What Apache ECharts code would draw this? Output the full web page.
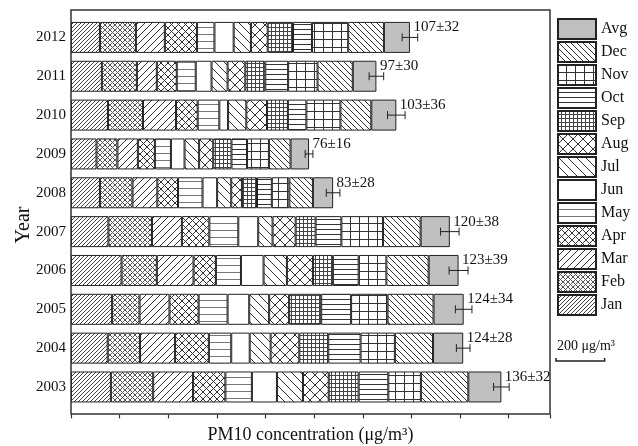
<!DOCTYPE html>
<html>
<head>
<meta charset="utf-8">
<script src="https://cdn.jsdelivr.net/npm/echarts@6/dist/echarts.min.js"></script>
<style>
  html, body { margin: 0; padding: 0; background: #fff; }
  #chart { width: 638px; height: 446px; }
</style>
</head>
<body>
<div id="chart"></div>
<script>
// Monthly mean PM10 (µg/m3) per year, stacked, followed by the annual mean ± SD.
const years = ['2003', '2004', '2005', '2006', '2007', '2008', '2009', '2010', '2011', '2012'];
const monthNames = ['Jan', 'Feb', 'Mar', 'Apr', 'May', 'Jun', 'Jul', 'Aug', 'Sep', 'Oct', 'Nov', 'Dec'];

const jan = [164, 151, 169, 208, 154, 119, 105, 152, 127, 119];
const feb = [174, 133, 113, 145, 179, 134, 86, 144, 144, 148];
const mar = [164, 144, 123, 151, 123, 102, 84, 136, 82, 119];
const apr = [133, 139, 120, 92, 113, 85, 70, 89, 82, 132];
const may = [109, 92, 119, 103, 119, 101, 66, 89, 78, 72];
const jun = [103, 76, 89, 93, 82, 60, 56, 36, 65, 79];
const jul = [107, 86, 82, 96, 59, 58, 60, 75, 66, 71];
const aug = [106, 118, 82, 107, 95, 44, 58, 85, 73, 69];
const sep = [123, 119, 132, 82, 82, 62, 75, 86, 82, 104];
const oct = [122, 133, 123, 106, 106, 61, 64, 76, 94, 78];
const nov = [134, 141, 150, 114, 171, 72, 90, 140, 121, 149];
const dec = [195, 157, 189, 174, 155, 97, 89, 127, 145, 147];
const annualMean = [136, 124, 124, 123, 120, 83, 76, 103, 97, 107];
const annualSd = [32, 28, 34, 39, 38, 28, 16, 36, 30, 32];

const monthValues = [jan, feb, mar, apr, may, jun, jul, aug, sep, oct, nov, dec];

const FONT = "'Liberation Serif', 'Times New Roman', serif";
const INK = '#222';

// ---- hatch fills drawn on small tiles ----
function tile(w, h, color, draw) {
  const c = document.createElement('canvas');
  c.width = w; c.height = h;
  const ctx = c.getContext('2d');
  ctx.fillStyle = '#fff';
  ctx.fillRect(0, 0, w, h);
  ctx.strokeStyle = color;
  ctx.lineWidth = 1;
  draw(ctx, w, h);
  return { image: c, repeat: 'repeat' };
}
function seg(ctx, x1, y1, x2, y2) {
  ctx.beginPath(); ctx.moveTo(x1, y1); ctx.lineTo(x2, y2); ctx.stroke();
}
function slash(ctx, s) {            // "/"
  seg(ctx, -1, s + 1, s + 1, -1);
  seg(ctx, -1, 1, 1, -1);
  seg(ctx, s - 1, s + 1, s + 1, s - 1);
}
function backslash(ctx, s) {        // "\"
  seg(ctx, -1, -1, s + 1, s + 1);
  seg(ctx, -1, s - 1, 1, s + 1);
  seg(ctx, s - 1, -1, s + 1, 1);
}
function hLine(ctx, w, h) { seg(ctx, 0, h - 0.5, w, h - 0.5); }
function vLine(ctx, w, h) { seg(ctx, w - 0.5, 0, w - 0.5, h); }

const fills = {
  Jan: tile(4, 4, '#444', (c, w) => slash(c, w)),
  Feb: tile(5, 5, '#555', (c, w) => { slash(c, w); backslash(c, w); }),
  Mar: tile(7, 7, '#333', (c, w) => slash(c, w)),
  Apr: tile(7, 7, '#333', (c, w) => { slash(c, w); backslash(c, w); }),
  May: tile(7, 7, '#777', (c, w, h) => hLine(c, w, h)),
  Jun: '#ffffff',
  Jul: tile(9, 9, '#333', (c, w) => backslash(c, w)),
  Aug: tile(10, 10, '#333', (c, w) => { slash(c, w); backslash(c, w); }),
  Sep: tile(4, 4, '#444', (c, w, h) => { hLine(c, w, h); vLine(c, w, h); }),
  Oct: tile(5, 5, '#333', (c, w, h) => hLine(c, w, h)),
  Nov: tile(9, 8, '#333', (c, w, h) => { hLine(c, w, h); vLine(c, w, h); }),
  Dec: tile(6, 6, '#333', (c, w) => backslash(c, w)),
  Avg: '#c0c0c0'
};

// ---- series ----
const barStyle = (name) => ({ color: fills[name], borderColor: INK, borderWidth: 1 });

const series = monthNames.map((name, i) => ({
  name: name,
  type: 'bar',
  stack: 'year',
  barWidth: 31,
  itemStyle: barStyle(name),
  data: monthValues[i]
}));
series.push({
  name: 'Avg',
  type: 'bar',
  stack: 'year',
  barWidth: 31,
  itemStyle: barStyle('Avg'),
  data: annualMean
});

// stack end of each year, where the mean ± SD whisker sits
const stackEnd = years.map((y, k) =>
  monthValues.reduce((s, arr) => s + arr[k], 0) + annualMean[k]);

series.push({
  name: 'meanSd',
  type: 'custom',
  z: 10,
  silent: true,
  data: years.map((y, k) => [stackEnd[k], y, annualSd[k], annualMean[k]]),
  encode: { x: 0, y: 1 },
  renderItem: function (params, api) {
    const end = api.value(0), cat = api.value(1), sd = api.value(2), mean = api.value(3);
    const c = api.coord([end, cat]);
    const lo = api.coord([end - sd, cat]);
    const hi = api.coord([end + sd, cat]);
    const cap = 4;
    const st = { stroke: INK, lineWidth: 1 };
    return {
      type: 'group',
      children: [
        { type: 'line', shape: { x1: lo[0], y1: c[1], x2: hi[0], y2: c[1] }, style: st },
        { type: 'line', shape: { x1: lo[0], y1: c[1] - cap, x2: lo[0], y2: c[1] + cap }, style: st },
        { type: 'line', shape: { x1: hi[0], y1: c[1] - cap, x2: hi[0], y2: c[1] + cap }, style: st },
        {
          type: 'text',
          style: {
            text: mean + '±' + sd,
            x: c[0] + 3.5, y: c[1] - 10,
            align: 'left', verticalAlign: 'middle',
            font: '15px ' + FONT, fill: '#111'
          }
        }
      ]
    };
  }
});

const chart = echarts.init(document.getElementById('chart'), null, { renderer: 'canvas' });

function decorations(scalePx) {
  const items = [
    {
      id: 'frame', type: 'rect', z: 20, silent: true,
      shape: { x: 71, y: 10, width: 479, height: 404 },
      style: { fill: 'none', stroke: '#333', lineWidth: 1.5 }
    },
    {
      id: 'xTitle', type: 'text', z: 20,
      style: {
        text: 'PM10 concentration (μg/m³)', x: 310.5, y: 435,
        align: 'center', verticalAlign: 'middle',
        font: '18px ' + FONT, fill: '#111'
      }
    },
    {
      id: 'yTitle', type: 'text', z: 20, rotation: Math.PI / 2, x: 24, y: 225,
      style: {
        text: 'Year', x: 0, y: 0,
        align: 'center', verticalAlign: 'middle',
        font: '20px ' + FONT, fill: '#111'
      }
    }
  ];
  if (scalePx) {
    const x0 = 556, y0 = 361;
    items.push(
      {
        id: 'scaleText', type: 'text', z: 20,
        style: {
          text: '200 μg/m³', x: x0 + 1, y: 346,
          align: 'left', verticalAlign: 'middle',
          font: '14px ' + FONT, fill: '#111'
        }
      },
      {
        id: 'scaleBar', type: 'polyline', z: 20,
        shape: { points: [[x0, y0 - 3], [x0, y0], [x0 + scalePx, y0], [x0 + scalePx, y0 - 3]] },
        style: { stroke: INK, lineWidth: 1.5, fill: 'none' }
      }
    );
  }
  return items;
}

chart.setOption({
  animation: false,
  backgroundColor: '#fff',
  textStyle: { fontFamily: FONT },
  grid: { left: 71, right: 88, top: 18, bottom: 39.6, containLabel: false },
  xAxis: {
    type: 'value',
    min: 0,
    max: 1970,
    interval: 200,
    offset: 8,
    axisLine: { show: false },
    axisTick: { show: true, inside: false, length: 4, lineStyle: { color: '#333', width: 1.2 } },
    axisLabel: { show: false },
    splitLine: { show: false }
  },
  yAxis: {
    type: 'category',
    data: years,
    axisLine: { show: false },
    axisTick: { show: false },
    axisLabel: { fontSize: 15, fontFamily: FONT, color: '#111', margin: 5 },
    splitLine: { show: false }
  },
  legend: {
    orient: 'vertical',
    left: 557,
    top: 18,
    itemWidth: 38,
    itemHeight: 20,
    itemGap: 1,
    icon: 'rect',
    padding: 0,
    selectedMode: false,
    textStyle: { fontSize: 16, lineHeight: 20, fontFamily: FONT, color: '#111' },
    data: ['Avg', 'Dec', 'Nov', 'Oct', 'Sep', 'Aug', 'Jul', 'Jun', 'May', 'Apr', 'Mar', 'Feb', 'Jan']
  },
  series: series,
  graphic: decorations(0)
});

// scale bar length comes from the x axis itself
const px200 = chart.convertToPixel({ xAxisIndex: 0 }, 200) - chart.convertToPixel({ xAxisIndex: 0 }, 0);
chart.setOption({ graphic: decorations(px200) });
</script>
</body>
</html>
